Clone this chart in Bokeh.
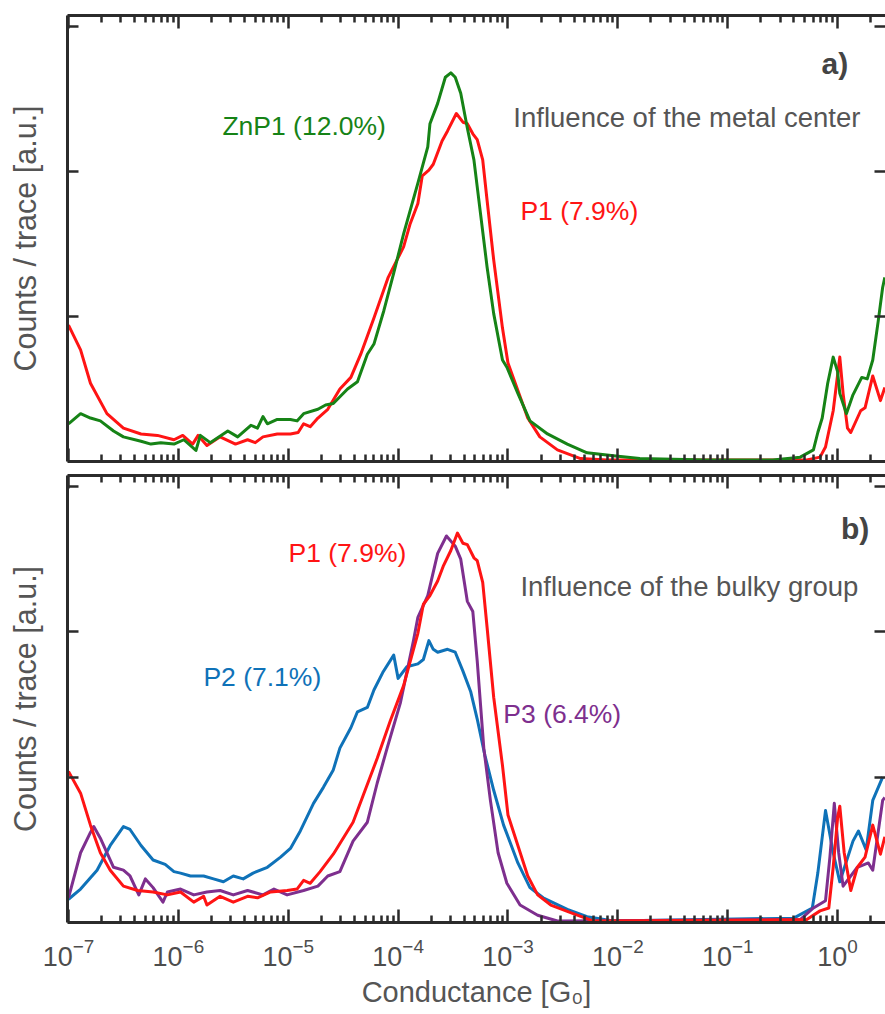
from bokeh.plotting import figure
from bokeh.models import (Range1d, FixedTicker, LinearAxis, LogAxis, Label,
                          CustomJSTickFormatter, LogTickFormatter)
from bokeh.layouts import column
from bokeh.embed import file_html
from bokeh.resources import INLINE

# ---------------- data (log10 of conductance / G0, counts per trace in a.u.) ----------------
a_znp1_logG = [-7.0, -6.89, -6.80, -6.71, -6.59, -6.50, -6.34, -6.25, -6.16, -6.04, -5.95, -5.84,
               -5.80, -5.71, -5.55, -5.46, -5.34, -5.28, -5.23, -5.19, -5.10, -4.98, -4.92, -4.86,
               -4.73, -4.66, -4.59, -4.46, -4.37, -4.28, -4.22, -4.13, -4.04, -3.95, -3.82, -3.73,
               -3.71, -3.64, -3.57, -3.52, -3.48, -3.43, -3.37, -3.31, -3.25, -3.19, -3.13, -3.05,
               -3.01, -2.91, -2.80, -2.64, -2.46, -2.28, -2.04, -1.80, -1.19, -0.59, -0.34, -0.22,
               -0.18, -0.14, -0.09, -0.04, 0.0, 0.02, 0.08, 0.14, 0.22, 0.27, 0.32, 0.37, 0.41, 0.43]
a_znp1_counts = [0.26, 0.33, 0.30, 0.28, 0.21, 0.17, 0.14, 0.12, 0.13, 0.12, 0.15, 0.076,
                 0.18, 0.13, 0.21, 0.17, 0.25, 0.23, 0.31, 0.26, 0.29, 0.29, 0.28, 0.33,
                 0.36, 0.39, 0.40, 0.50, 0.55, 0.74, 0.81, 1.04, 1.30, 1.57, 1.92, 2.17,
                 2.33, 2.47, 2.65, 2.68, 2.65, 2.54, 2.30, 2.08, 1.71, 1.34, 1.02, 0.70,
                 0.65, 0.47, 0.28, 0.19, 0.12, 0.06, 0.04, 0.02, 0.01, 0.01, 0.03, 0.08,
                 0.20, 0.30, 0.54, 0.72, 0.62, 0.47, 0.33, 0.46, 0.58, 0.57, 0.70, 0.97, 1.20, 1.27]

a_p1_logG = [-7.0, -6.89, -6.80, -6.65, -6.50, -6.34, -6.19, -6.04, -5.96, -5.87, -5.82, -5.74,
             -5.62, -5.48, -5.37, -5.30, -5.23, -5.10, -4.98, -4.91, -4.86, -4.80, -4.73, -4.64,
             -4.53, -4.43, -4.34, -4.22, -4.09, -3.95, -3.89, -3.82, -3.78, -3.72, -3.68, -3.60,
             -3.55, -3.47, -3.41, -3.37, -3.32, -3.28, -3.23, -3.19, -3.13, -3.05, -3.00, -2.91,
             -2.82, -2.71, -2.55, -2.34, -2.10, -0.28, -0.16, -0.11, -0.04, 0.02, 0.05, 0.09,
             0.12, 0.21, 0.25, 0.32, 0.39, 0.43]
a_p1_counts = [0.94, 0.77, 0.54, 0.33, 0.23, 0.19, 0.18, 0.15, 0.18, 0.12, 0.18, 0.11,
               0.17, 0.12, 0.15, 0.13, 0.17, 0.19, 0.19, 0.20, 0.26, 0.24, 0.30, 0.36,
               0.50, 0.58, 0.74, 0.99, 1.27, 1.48, 1.64, 1.78, 1.97, 2.01, 2.05, 2.21,
               2.28, 2.40, 2.34, 2.33, 2.26, 2.22, 2.08, 1.80, 1.39, 0.92, 0.68, 0.49,
               0.30, 0.17, 0.08, 0.02, 0.01, 0.01, 0.03, 0.10, 0.35, 0.72, 0.47, 0.23,
               0.20, 0.35, 0.37, 0.59, 0.42, 0.51]

b_p2_logG = [-7.0, -6.89, -6.74, -6.62, -6.50, -6.44, -6.34, -6.23, -6.12, -6.04, -5.98, -5.89,
             -5.77, -5.68, -5.59, -5.50, -5.41, -5.32, -5.19, -5.07, -4.98, -4.89, -4.77, -4.68,
             -4.59, -4.53, -4.43, -4.37, -4.28, -4.22, -4.14, -4.04, -4.00, -3.92, -3.82, -3.77,
             -3.72, -3.68, -3.64, -3.55, -3.48, -3.41, -3.34, -3.28, -3.21, -3.13, -3.04, -2.91,
             -2.80, -2.68, -2.46, -2.28, -2.04, -0.40, -0.23, -0.18, -0.11, -0.04, 0.02, 0.14,
             0.19, 0.26, 0.32, 0.41]
b_p2_counts = [0.16, 0.23, 0.36, 0.53, 0.66, 0.64, 0.53, 0.43, 0.40, 0.35, 0.34, 0.32,
               0.32, 0.30, 0.28, 0.32, 0.30, 0.34, 0.38, 0.45, 0.51, 0.63, 0.82, 0.93,
               1.05, 1.20, 1.34, 1.45, 1.48, 1.60, 1.72, 1.84, 1.68, 1.76, 1.78, 1.81,
               1.94, 1.88, 1.86, 1.88, 1.86, 1.73, 1.59, 1.40, 1.15, 0.91, 0.67, 0.41,
               0.24, 0.17, 0.09, 0.04, 0.01, 0.03, 0.10, 0.34, 0.77, 0.48, 0.28, 0.56,
               0.63, 0.50, 0.84, 1.00]

b_p3_logG = [-7.0, -6.89, -6.80, -6.77, -6.71, -6.59, -6.50, -6.44, -6.36, -6.30, -6.23, -6.14,
             -6.10, -5.98, -5.86, -5.74, -5.62, -5.50, -5.37, -5.23, -5.13, -5.01, -4.86, -4.73,
             -4.64, -4.53, -4.41, -4.28, -4.19, -4.10, -3.98, -3.86, -3.82, -3.73, -3.64, -3.56,
             -3.48, -3.43, -3.37, -3.32, -3.28, -3.22, -3.16, -3.09, -3.01, -2.89, -2.73, -2.55,
             -0.34, -0.22, -0.11, -0.07, -0.03, 0.01, 0.05, 0.18, 0.28, 0.32, 0.41, 0.43]
b_p3_counts = [0.17, 0.48, 0.62, 0.66, 0.58, 0.38, 0.36, 0.32, 0.19, 0.30, 0.24, 0.14,
               0.21, 0.23, 0.19, 0.21, 0.22, 0.19, 0.22, 0.19, 0.23, 0.19, 0.22, 0.25,
               0.32, 0.35, 0.56, 0.69, 0.96, 1.20, 1.51, 1.94, 2.10, 2.25, 2.54, 2.66,
               2.59, 2.50, 2.21, 2.14, 1.80, 1.20, 0.84, 0.48, 0.27, 0.12, 0.05, 0.01,
               0.02, 0.10, 0.15, 0.45, 0.82, 0.48, 0.25, 0.38, 0.41, 0.36, 0.84, 0.86]

b_p1_logG = [-7.0, -6.89, -6.80, -6.71, -6.62, -6.50, -6.37, -6.23, -6.10, -5.98, -5.86, -5.77,
             -5.74, -5.62, -5.50, -5.37, -5.28, -5.16, -5.01, -4.92, -4.86, -4.80, -4.71, -4.59,
             -4.50, -4.41, -4.32, -4.19, -4.07, -3.95, -3.82, -3.77, -3.71, -3.64, -3.59, -3.52,
             -3.46, -3.41, -3.37, -3.31, -3.28, -3.23, -3.19, -3.13, -3.05, -3.00, -2.91, -2.82,
             -2.73, -2.61, -2.40, -2.22, -0.28, -0.16, -0.08, -0.04, 0.0, 0.02, 0.06, 0.12,
             0.18, 0.25, 0.32, 0.39, 0.43]
b_p1_counts = [1.04, 0.89, 0.67, 0.48, 0.36, 0.25, 0.22, 0.21, 0.19, 0.21, 0.14, 0.18,
               0.12, 0.18, 0.14, 0.18, 0.17, 0.21, 0.22, 0.23, 0.29, 0.27, 0.35, 0.47,
               0.58, 0.69, 0.87, 1.13, 1.39, 1.63, 1.99, 2.19, 2.25, 2.35, 2.45, 2.56,
               2.68, 2.61, 2.60, 2.51, 2.49, 2.34, 2.03, 1.55, 1.08, 0.74, 0.53, 0.32,
               0.19, 0.12, 0.06, 0.01, 0.02, 0.08, 0.10, 0.38, 0.72, 0.80, 0.48, 0.22,
               0.38, 0.45, 0.67, 0.47, 0.59]

decades = [-7, -6, -5, -4, -3, -2, -1, 0]
y_ticks = [1, 2, 3]

# ---------------- styles ----------------
FONT = "Liberation Sans"
AX = "#2b2b2b"
GRAY = "#555555"
C_GREEN = "#168316"
C_RED = "#ff1414"
C_BLUE = "#0f72b8"
C_PURPLE = "#7e2f8e"

X0, X1 = 10 ** -7.009, 10 ** 0.436
Y0, Y1 = 0.0, 3.076

major = [10.0 ** e for e in decades]
minor = [k * 10.0 ** e for e in range(-8, 1) for k in range(2, 10)]
blank = CustomJSTickFormatter(code="return ''")


def style_xaxis(ax, show_labels):
    ax.ticker = FixedTicker(ticks=major, minor_ticks=minor)
    ax.axis_line_color = AX
    ax.axis_line_width = 3
    ax.major_tick_line_color = AX
    ax.major_tick_line_width = 2.5
    ax.major_tick_in = 13
    ax.major_tick_out = 0
    ax.minor_tick_line_color = AX
    ax.minor_tick_line_width = 2.5
    ax.minor_tick_in = 7
    ax.minor_tick_out = 0
    if show_labels:
        ax.formatter = LogTickFormatter()
        ax.major_label_text_font = FONT
        ax.major_label_text_font_size = "27px"
        ax.major_label_text_color = "#4d4d4d"
        ax.major_label_standoff = 15
    else:
        ax.formatter = blank
        ax.major_label_standoff = 0
        ax.major_label_text_font_size = "1px"


def style_yaxis(ax, line=True):
    ax.ticker = FixedTicker(ticks=y_ticks)
    ax.axis_line_color = AX if line else None
    ax.axis_line_width = 3
    ax.major_tick_line_color = AX
    ax.major_tick_line_width = 2.5
    ax.major_tick_in = 11
    ax.major_tick_out = 0
    ax.minor_tick_line_color = None
    ax.formatter = blank
    ax.major_label_standoff = 0
    ax.major_label_text_font_size = "1px"


def make_panel(height, top_border, bottom_border, bottom_labels):
    p = figure(width=885, height=height, x_axis_type="log",
               x_range=Range1d(X0, X1), y_range=Range1d(Y0, Y1),
               output_backend="svg", toolbar_location=None,
               min_border_left=67, min_border_right=0, min_border_top=top_border,
               min_border_bottom=bottom_border)
    p.outline_line_color = None
    p.grid.visible = False
    p.background_fill_color = "white"
    p.border_fill_color = "white"
    bottom = p.below[0]
    style_xaxis(bottom, bottom_labels)
    style_yaxis(p.yaxis[0])
    p.yaxis[0].axis_label = "Counts / trace [a.u.]"
    p.yaxis[0].axis_label_text_font = FONT
    p.yaxis[0].axis_label_text_font_size = "30.5px"
    p.yaxis[0].axis_label_text_font_style = "normal"
    p.yaxis[0].axis_label_text_color = GRAY
    p.yaxis[0].axis_label_standoff = 26
    top = LogAxis()
    style_xaxis(top, False)
    p.add_layout(top, "above")
    right = LinearAxis()
    style_yaxis(right, line=False)
    p.add_layout(right, "right")
    return p, bottom


def add_text(p, x, y, text, color, size, bold=False, align="left"):
    p.add_layout(Label(x=x, y=y, text=text, text_color=color, text_font=FONT,
                       text_font_size=size, text_font_style="bold" if bold else "normal",
                       text_align=align, text_baseline="middle"))


def curve(p, logG, counts, color):
    p.line([10.0 ** v for v in logG], counts, line_color=color, line_width=3,
           line_join="round")


# ---------------- panel a ----------------
pa, _ = make_panel(468, 15, 7, False)
curve(pa, a_p1_logG, a_p1_counts, C_RED)
curve(pa, a_znp1_logG, a_znp1_counts, C_GREEN)
add_text(pa, 10 ** 0.097, 2.745, "a)", "#444444", "30px", bold=True, align="right")
add_text(pa, 10 ** -2.951, 2.372, "Influence of the metal center", GRAY, "27.5px")
add_text(pa, 10 ** -5.599, 2.317, "ZnP1 (12.0%)", C_GREEN, "26.5px")
add_text(pa, 10 ** -2.887, 1.731, "P1 (7.9%)", C_RED, "26.5px")

# ---------------- panel b ----------------
pb, pb_bottom = make_panel(546, 7, 92, True)
pb_bottom.axis_label = "Conductance [G\u2080]"
pb_bottom.axis_label_text_font = FONT
pb_bottom.axis_label_text_font_size = "29px"
pb_bottom.axis_label_text_font_style = "normal"
pb_bottom.axis_label_text_color = GRAY
pb_bottom.axis_label_standoff = 7
curve(pb, b_p2_logG, b_p2_counts, C_BLUE)
curve(pb, b_p3_logG, b_p3_counts, C_PURPLE)
curve(pb, b_p1_logG, b_p1_counts, C_RED)
add_text(pb, 10 ** 0.289, 2.712, "b)", "#444444", "30px", bold=True, align="right")
add_text(pb, 10 ** -2.887, 2.312, "Influence of the bulky group", GRAY, "27.5px")
add_text(pb, 10 ** -4.998, 2.540, "P1 (7.9%)", C_RED, "26.5px")
add_text(pb, 10 ** -5.772, 1.686, "P2 (7.1%)", C_BLUE, "26.5px")
add_text(pb, 10 ** -3.042, 1.438, "P3 (6.4%)", C_PURPLE, "26.5px")

layout = column(pa, pb)
open("out.html", "w").write(file_html(layout, INLINE))
